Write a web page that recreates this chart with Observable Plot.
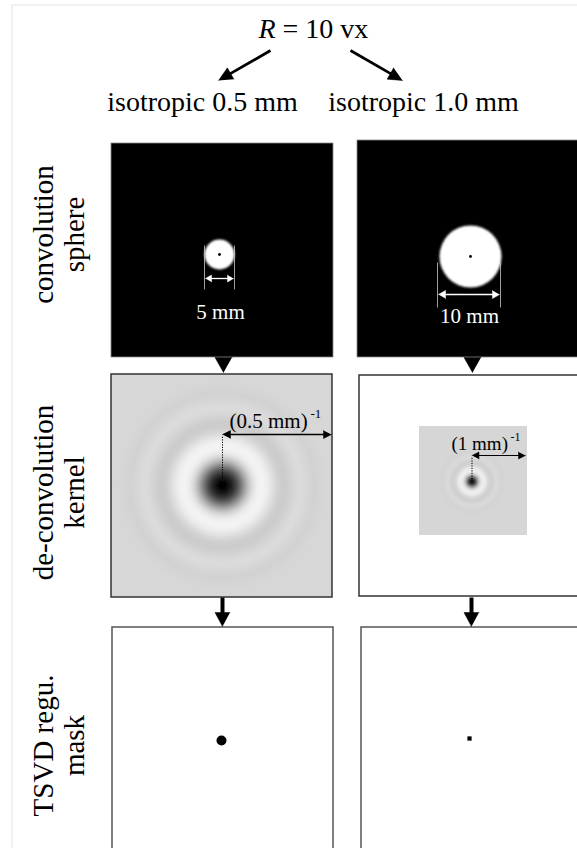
<!DOCTYPE html>
<html><head><meta charset="utf-8">
<script src="https://cdn.jsdelivr.net/npm/d3@7"></script>
<script src="https://cdn.jsdelivr.net/npm/@observablehq/plot@0.6"></script>
<style>body{margin:0;background:#fff}</style>
</head><body><div id="chart"></div>
<script>
// ---------- data (text and intensity values) ----------
const titleItalic = "R";
const titleRest = "= 10 vx";
const columnLabels = ["isotropic 0.5 mm", "isotropic 1.0 mm"];
const rowLabels = ["convolution\nsphere", "de-convolution\nkernel", "TSVD regu.\nmask"];
const sphereLabels = ["5 mm", "10 mm"];
const kernelLabels = ["(0.5 mm)", "(1 mm)"];
const kernelExponent = "-1";
// radial grey intensity (0 = black, 255 = white) of the de-convolution kernels, centre outwards
const kernelProfile05 = [0, 5, 20, 45, 85, 130, 175, 210, 232, 242, 244, 240, 230, 218, 208, 203, 204, 209, 215, 219, 219, 216, 212, 210, 211, 213, 215, 215, 215, 215, 215];
const kernelProfile10 = [0, 25, 80, 160, 215, 236, 240, 230, 216, 207, 207, 213, 218, 217, 213, 211, 212, 214, 215, 214, 214, 214, 214, 214, 214, 214, 214, 214, 214, 214];

// ---------- layout ----------
const W = 577, H = 848;
const serif = "Liberation Serif, Times New Roman, serif";
const kernels = [
  {profile: kernelProfile05, cx: 222, cy: 485, step: 4, id: "kL", clip: [111, 374, 221, 223]},
  {profile: kernelProfile10, cx: 471.5, cy: 481, step: 2, id: "kR", clip: [419, 426, 108, 109]}
];
function rings(k) {
  return k.profile.map((v, i) => ({cx: k.cx, cy: k.cy, r: k.step * (i + 0.5), v: v / 255})).reverse();
}
const panels = [
  {x1: 111, x2: 333, y1: 143, y2: 357, fill: "black", stroke: "#888", sw: 0.8},
  {x1: 357, x2: 582, y1: 140, y2: 357, fill: "black", stroke: "#888", sw: 0.8},
  {x1: 111, x2: 332, y1: 374, y2: 597, fill: "#d7d7d7", stroke: "#333", sw: 1.5},
  {x1: 359, x2: 582, y1: 375, y2: 596, fill: "white", stroke: "#333", sw: 1.5},
  {x1: 112, x2: 333, y1: 627, y2: 852, fill: "white", stroke: "#555", sw: 1.5},
  {x1: 361, x2: 582, y1: 627, y2: 852, fill: "white", stroke: "#555", sw: 1.5}
];
const spheres = [{x: 219, y: 254, r: 15}, {x: 470, y: 256, r: 31}];

function head(id, tx, ty, fx, fy, len, hw) {
  const dx = tx - fx, dy = ty - fy, L = Math.hypot(dx, dy);
  const ux = dx / L, uy = dy / L, px = -uy, py = ux;
  const bx = tx - ux * len, by = ty - uy * len;
  return [{id, x: tx, y: ty}, {id, x: bx + px * hw, y: by + py * hw}, {id, x: bx - px * hw, y: by - py * hw}];
}
function build(arrows, prefix) {
  const shafts = [], heads = [];
  arrows.forEach((a, i) => {
    const dx = a.x2 - a.x1, dy = a.y2 - a.y1, L = Math.hypot(dx, dy), ux = dx / L, uy = dy / L;
    const s0 = a.both ? a.len * 0.8 : 0, s1 = a.len * 0.8;
    if (a.sw > 0) shafts.push({x1: a.x1 + ux * s0, y1: a.y1 + uy * s0, x2: a.x2 - ux * s1, y2: a.y2 - uy * s1, sw: a.sw});
    heads.push(...head(prefix + i + "e", a.x2, a.y2, a.x1, a.y1, a.len, a.hw));
    if (a.both) heads.push(...head(prefix + i + "s", a.x1, a.y1, a.x2, a.y2, a.len, a.hw));
  });
  return {shafts, heads};
}
const blackArrows = build([
  {x1: 270, y1: 50, x2: 218, y2: 80, len: 14, hw: 6.5, sw: 2.8},
  {x1: 350, y1: 50, x2: 402, y2: 80, len: 14, hw: 6.5, sw: 2.8},
  {x1: 222, y1: 434, x2: 331, y2: 434, len: 8, hw: 4, sw: 1.3, both: true},
  {x1: 471.5, y1: 455, x2: 525, y2: 455, len: 7, hw: 3.5, sw: 1.2, both: true},
  {x1: 222, y1: 597, x2: 222, y2: 626, len: 14, hw: 7.5, sw: 4},
  {x1: 471, y1: 597, x2: 471, y2: 626, len: 14, hw: 7.5, sw: 4},
  {x1: 223, y1: 350, x2: 223, y2: 372, len: 15, hw: 8.5, sw: 0},
  {x1: 472, y1: 350, x2: 472, y2: 372, len: 15, hw: 8.5, sw: 0}
], "b");
const whiteArrows = build([
  {x1: 205, y1: 278, x2: 233, y2: 278, len: 6, hw: 3.5, sw: 1.3, both: true},
  {x1: 438, y1: 294, x2: 499, y2: 294, len: 7, hw: 4, sw: 1.4, both: true}
], "w");

const chart = Plot.plot({
  width: W, height: H, margin: 0,
  x: {domain: [0, W], range: [0, W], axis: null},
  y: {domain: [0, H], range: [0, H], axis: null},
  r: {type: "identity"},
  color: {type: "linear", domain: [0, 1], range: ["black", "white"]},
  style: {background: "white", fontFamily: serif, overflow: "hidden"},
  marks: [
    Plot.rect([{x1: 12, x2: 600, y1: 5, y2: 870}], {x1: "x1", x2: "x2", y1: "y1", y2: "y2", fill: "none", stroke: "#e4e4e4"}),
    ...panels.map(p => Plot.rect([p], {x1: "x1", x2: "x2", y1: "y1", y2: "y2", fill: p.fill})),
    Plot.rect([{x1: 419, x2: 527, y1: 426, y2: 535}], {x1: "x1", x2: "x2", y1: "y1", y2: "y2", fill: "#d6d6d6"}),
    ...kernels.map(k => Plot.dot(rings(k), {x: "cx", y: "cy", r: "r", fill: "v", ariaDescription: k.id})),
    ...panels.map(p => Plot.rect([p], {x1: "x1", x2: "x2", y1: "y1", y2: "y2", fill: "none", stroke: p.stroke, strokeWidth: p.sw})),
    // convolution spheres
    Plot.dot(spheres, {x: "x", y: "y", r: "r", fill: "white", ariaDescription: "sph"}),
    Plot.dot(spheres, {x: "x", y: "y", r: 1.4, fill: "black"}),
    Plot.link([{x: 204, y1: 245, y2: 289}, {x: 234, y1: 245, y2: 289}, {x: 437, y1: 262, y2: 307}, {x: 500, y1: 262, y2: 307}],
      {x1: "x", x2: "x", y1: "y1", y2: "y2", stroke: "#c8c8c8", strokeWidth: 0.8}),
    Plot.link(whiteArrows.shafts, {x1: "x1", y1: "y1", x2: "x2", y2: "y2", stroke: "white", strokeWidth: "sw"}),
    Plot.line(whiteArrows.heads, {x: "x", y: "y", z: "id", fill: "white", stroke: "white", strokeWidth: 0.5}),
    Plot.text([sphereLabels[0]], {x: 220, y: 318, text: d => d, fill: "white", fontSize: 21, textAnchor: "middle", lineAnchor: "bottom", fontFamily: serif}),
    Plot.text([sphereLabels[1]], {x: 469, y: 322, text: d => d, fill: "white", fontSize: 21, textAnchor: "middle", lineAnchor: "bottom", fontFamily: serif}),
    // kernel annotations
    Plot.link([{x: 222, y1: 485, y2: 436}, {x: 471.5, y1: 481, y2: 457}],
      {x1: "x", x2: "x", y1: "y1", y2: "y2", stroke: "black", strokeWidth: 1, strokeDasharray: "1.2,1.3"}),
    Plot.link(blackArrows.shafts, {x1: "x1", y1: "y1", x2: "x2", y2: "y2", stroke: "black", strokeWidth: "sw"}),
    Plot.line(blackArrows.heads, {x: "x", y: "y", z: "id", fill: "black", stroke: "black", strokeWidth: 0.5}),
    Plot.text([kernelLabels[0]], {x: 229, y: 427, text: d => d, fontSize: 21, textAnchor: "start", lineAnchor: "bottom", fontFamily: serif, fill: "black"}),
    Plot.text([kernelExponent], {x: 310, y: 417, text: d => d, fontSize: 13, textAnchor: "start", lineAnchor: "bottom", fontFamily: serif, fill: "black"}),
    Plot.text([kernelLabels[1]], {x: 451, y: 449, text: d => d, fontSize: 19, textAnchor: "start", lineAnchor: "bottom", fontFamily: serif, fill: "black"}),
    Plot.text([kernelExponent], {x: 510, y: 440, text: d => d, fontSize: 12, textAnchor: "start", lineAnchor: "bottom", fontFamily: serif, fill: "black"}),
    // TSVD masks
    Plot.dot([{x: 221, y: 740}], {x: "x", y: "y", r: 5, fill: "black"}),
    Plot.dot([{x: 469, y: 738}], {x: "x", y: "y", r: 2.4, symbol: "square", fill: "black"}),
    // titles
    Plot.text([titleItalic], {x: 258, y: 37, text: d => d, fontSize: 28, fontStyle: "italic", textAnchor: "start", lineAnchor: "bottom", fontFamily: serif, fill: "black"}),
    Plot.text([titleRest], {x: 282, y: 37, text: d => d, fontSize: 28, textAnchor: "start", lineAnchor: "bottom", fontFamily: serif, fill: "black"}),
    Plot.text(columnLabels, {x: (d, i) => [202, 423][i], y: 110, text: d => d, fontSize: 28, textAnchor: "middle", lineAnchor: "bottom", fontFamily: serif, fill: "black"}),
    Plot.text(rowLabels, {x: 83, y: (d, i) => [234, 492, 745][i], text: d => d, rotate: -90, fontSize: 29, lineHeight: 1.04, textAnchor: "middle", lineAnchor: "bottom", fontFamily: serif, fill: "black"})
  ]
});

const svg = d3.select(chart);
const defs = svg.insert("defs", ":first-child");
[["blurL", 2.5], ["blurR", 1], ["blurS", 1.1]].forEach(([id, s]) => {
  defs.append("filter").attr("id", id).attr("x", "-20%").attr("y", "-20%").attr("width", "140%").attr("height", "140%")
    .append("feGaussianBlur").attr("stdDeviation", s);
});
kernels.forEach(k => {
  const [cx, cy, cw, ch] = k.clip;
  defs.append("clipPath").attr("id", "clip" + k.id).attr("clipPathUnits", "userSpaceOnUse")
    .append("rect").attr("x", cx).attr("y", cy).attr("width", cw).attr("height", ch);
  const g = svg.select(`g[aria-description="${k.id}"]`);
  const wrap = svg.insert("g", () => g.node()).attr("clip-path", `url(#clip${k.id})`);
  wrap.node().appendChild(g.node());
  g.attr("filter", `url(#${k.id === "kL" ? "blurL" : "blurR"})`);
});
svg.selectAll('g[aria-description="sph"]').attr("filter", "url(#blurS)");
document.getElementById("chart").appendChild(chart);
</script>
</body></html>
